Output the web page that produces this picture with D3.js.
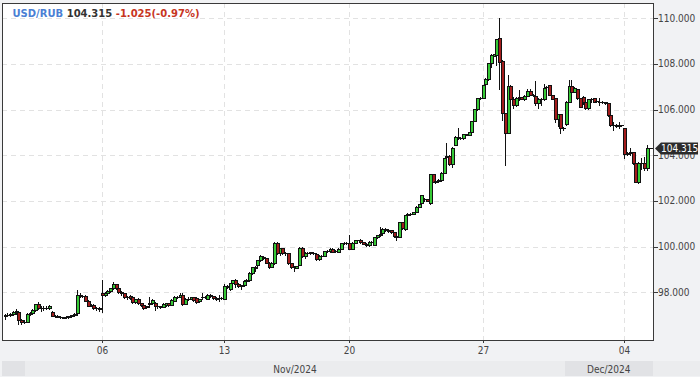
<!DOCTYPE html>
<html>
<head>
<meta charset="utf-8">
<script src="https://cdn.jsdelivr.net/npm/d3@7"></script>
<style>
  html, body { margin: 0; padding: 0; background: #f1f2f4; }
  svg { display: block; }
  .axis-text { font-family: "DejaVu Sans Condensed", "Liberation Sans Narrow", "DejaVu Sans Mono", monospace; font-size: 10px; fill: #444; }
</style>
</head>
<body>
<div id="chart"></div>
<script>
//=====================DATA=====================

const symbol = 'USD/RUB'
const lastText = '104.315'
const changeText = '-1.025(-0.97%)'

const opens = [
  96.95, 97.0, 97.02, 97.05, 97.15, 97.15, 96.77, 96.72, 96.7, 97.05,
  97.1, 97.22, 97.47, 97.3, 97.32, 97.3, 97.3, 97.15, 96.98, 96.95,
  96.93, 96.9, 96.9, 96.9, 96.95, 97.0, 97.08, 97.88, 97.85, 97.82,
  97.62, 97.42, 97.43, 97.3, 97.3, 97.97, 97.87, 97.96, 98.05, 98.17,
  98.35, 98.17, 98.0, 97.95, 97.78, 97.85, 97.78, 97.58, 97.7, 97.53,
  97.45, 97.35, 97.5, 97.52, 97.55, 97.38, 97.4, 97.37, 97.45, 97.52,
  97.45, 97.63, 97.8, 97.8, 97.9, 97.5, 97.72, 97.72, 97.78, 97.75,
  97.62, 97.78, 97.8, 97.72, 97.9, 97.82, 97.73, 97.75, 97.75, 97.72,
  98.28, 98.15, 98.42, 98.53, 98.38, 98.28, 98.3, 98.5, 98.55, 98.85,
  99.1, 99.2, 99.4, 99.55, 99.5, 99.3, 99.12, 99.27, 100.18, 99.7,
  99.92, 99.7, 99.7, 99.27, 99.12, 99.08, 99.2, 99.95, 99.57, 99.72,
  99.7, 99.72, 99.68, 99.45, 99.6, 99.6, 99.8, 99.8, 99.9, 99.8,
  99.78, 99.9, 100.16, 100.16, 100.16, 99.9, 100.16, 100.27, 100.3, 100.2,
  100.13, 100.06, 100.2, 100.07, 100.4, 100.5, 100.6, 100.76, 100.74, 100.72,
  100.62, 100.46, 100.42, 101.08, 100.77, 101.4, 101.44, 101.45, 101.53, 101.75,
  101.9, 102.1, 102.07, 101.92, 103.17, 102.85, 102.87, 102.9, 103.24, 103.92,
  103.98, 103.61, 104.45, 104.81, 104.74, 104.74, 104.9, 104.9, 105.0, 105.5,
  106.01, 106.5, 106.52, 107.12, 107.33, 108.03, 108.36, 108.39, 109.12, 108.14,
  105.84, 104.98, 107.03, 106.46, 106.2, 106.52, 106.54, 106.46, 106.6, 106.8,
  106.65, 106.6, 106.27, 106.46, 106.46, 106.98, 107.08, 106.64, 106.5, 105.58,
  105.8, 105.18, 105.36, 106.35, 107.05, 106.79, 106.9, 106.5, 106.55, 106.32,
  106.06, 106.46, 106.5, 106.38, 106.35, 106.32, 106.32, 106.27, 105.76, 105.33,
  105.32, 105.3, 105.31, 105.18, 104.06, 104.12, 104.13, 103.65, 102.82, 103.68,
  103.68, 103.43
]

const highs = [
  97.05, 97.1, 97.1, 97.2, 97.25, 97.2, 96.85, 96.8, 97.1, 97.15,
  97.28, 97.5, 97.58, 97.4, 97.38, 97.4, 97.45, 97.2, 97.02, 97.0,
  96.98, 96.93, 96.95, 96.97, 97.02, 97.08, 98.1, 97.95, 97.9, 97.86,
  97.66, 97.48, 97.47, 97.35, 97.34, 98.52, 98.0, 98.1, 98.2, 98.44,
  98.38, 98.2, 98.05, 97.98, 97.85, 97.88, 97.8, 97.72, 97.73, 97.55,
  97.47, 97.4, 97.78, 97.72, 97.58, 97.45, 97.42, 97.52, 97.55, 97.55,
  97.7, 97.82, 97.85, 97.95, 97.95, 97.75, 97.78, 97.8, 97.8, 97.78,
  97.72, 97.95, 97.85, 97.92, 97.93, 97.85, 97.78, 97.88, 97.8, 98.35,
  98.3, 98.42, 98.55, 98.56, 98.4, 98.33, 98.52, 98.58, 98.88, 99.12,
  99.15, 99.42, 99.62, 99.6, 99.52, 99.32, 99.33, 100.22, 100.2, 99.95,
  99.93, 99.75, 99.72, 99.3, 99.15, 99.17, 100.0, 99.97, 99.75, 99.76,
  99.78, 99.76, 99.7, 99.62, 99.63, 99.82, 99.83, 99.92, 99.92, 99.84,
  99.92, 100.18, 100.2, 100.2, 100.5, 100.2, 100.3, 100.3, 100.32, 100.22,
  100.15, 100.25, 100.23, 100.42, 100.52, 100.88, 100.8, 100.8, 100.76, 100.74,
  100.64, 100.48, 101.08, 101.1, 101.4, 101.48, 101.48, 101.53, 101.77, 101.88,
  102.28, 102.15, 102.1, 103.2, 103.2, 102.98, 102.96, 103.26, 103.9, 104.55,
  104.0, 104.35, 104.85, 105.18, 104.78, 104.95, 104.95, 105.02, 105.52, 106.03,
  106.52, 106.55, 107.1, 107.38, 108.05, 108.42, 108.45, 109.1, 110.0, 108.16,
  105.86, 107.5, 107.06, 106.55, 106.55, 106.85, 106.56, 106.62, 106.9, 106.9,
  106.68, 107.25, 106.5, 106.5, 107.12, 107.02, 107.1, 106.66, 106.52, 105.82,
  105.82, 105.22, 106.38, 107.3, 107.3, 106.98, 106.92, 106.52, 106.58, 106.34,
  106.48, 106.5, 106.52, 106.42, 106.5, 106.36, 106.34, 106.29, 105.78, 105.46,
  105.36, 105.47, 105.33, 105.2, 104.14, 104.3, 104.15, 103.67, 103.7, 103.9,
  103.92, 104.46
]

const lows = [
  96.85, 96.95, 96.95, 97.0, 97.05, 96.6, 96.6, 96.65, 96.68, 97.0,
  97.05, 97.2, 97.25, 97.2, 97.22, 97.25, 97.28, 96.95, 96.92, 96.9,
  96.88, 96.86, 96.86, 96.87, 96.92, 96.97, 97.02, 97.8, 97.78, 97.6,
  97.4, 97.38, 97.28, 97.22, 97.2, 97.12, 97.85, 97.94, 98.0, 98.15,
  98.15, 97.98, 97.9, 97.75, 97.72, 97.7, 97.54, 97.55, 97.5, 97.4,
  97.28, 97.3, 97.35, 97.48, 97.22, 97.33, 97.33, 97.35, 97.42, 97.42,
  97.43, 97.6, 97.75, 97.78, 97.45, 97.48, 97.68, 97.7, 97.63, 97.55,
  97.58, 97.72, 97.75, 97.7, 97.8, 97.7, 97.68, 97.6, 97.7, 97.7,
  98.2, 98.12, 98.4, 98.25, 98.25, 98.15, 98.28, 98.48, 98.5, 98.82,
  98.95, 99.15, 99.38, 99.45, 99.28, 99.05, 99.1, 99.25, 99.68, 99.65,
  99.68, 99.65, 99.25, 99.08, 98.95, 99.05, 99.18, 99.55, 99.52, 99.68,
  99.66, 99.67, 99.42, 99.43, 99.56, 99.58, 99.75, 99.78, 99.75, 99.76,
  99.76, 99.88, 100.12, 100.12, 99.88, 99.88, 100.14, 100.22, 100.18, 100.1,
  100.04, 100.04, 100.15, 100.05, 100.38, 100.48, 100.58, 100.7, 100.66, 100.6,
  100.44, 100.3, 100.4, 100.78, 100.74, 101.25, 101.4, 101.43, 101.5, 101.72,
  101.88, 102.0, 101.98, 101.85, 102.82, 102.8, 102.85, 102.88, 103.22, 103.88,
  103.58, 103.5, 104.43, 104.72, 104.7, 104.72, 104.87, 104.88, 104.98, 105.48,
  105.99, 106.46, 106.5, 107.08, 107.3, 107.88, 108.33, 107.95, 106.9, 105.55,
  103.58, 104.96, 106.42, 106.05, 106.18, 106.42, 106.45, 106.44, 106.58, 106.62,
  106.6, 106.2, 106.05, 106.2, 106.44, 106.92, 106.62, 106.45, 105.45, 105.3,
  104.96, 105.12, 105.33, 106.32, 106.76, 106.76, 106.48, 106.1, 106.25, 106.04,
  106.04, 106.32, 106.33, 106.33, 106.2, 106.28, 106.26, 105.74, 105.3, 105.12,
  105.26, 105.18, 105.29, 103.88, 104.0, 104.03, 103.6, 102.82, 102.8, 103.4,
  103.35, 103.35
]

const closes = [
  97.0, 97.02, 97.05, 97.15, 97.18, 96.77, 96.72, 96.7, 97.05, 97.1,
  97.22, 97.47, 97.3, 97.32, 97.3, 97.33, 97.42, 96.98, 96.95, 96.93,
  96.9, 96.89, 96.9, 96.95, 97.0, 97.06, 97.88, 97.85, 97.82, 97.62,
  97.42, 97.43, 97.3, 97.3, 97.28, 97.87, 97.96, 98.05, 98.17, 98.35,
  98.17, 98.0, 97.95, 97.78, 97.8, 97.73, 97.56, 97.7, 97.53, 97.43,
  97.33, 97.38, 97.52, 97.68, 97.38, 97.4, 97.36, 97.5, 97.52, 97.45,
  97.68, 97.8, 97.8, 97.9, 97.5, 97.72, 97.72, 97.78, 97.65, 97.57,
  97.7, 97.8, 97.78, 97.9, 97.82, 97.73, 97.72, 97.75, 97.75, 98.28,
  98.25, 98.4, 98.53, 98.38, 98.28, 98.3, 98.5, 98.55, 98.85, 99.1,
  99.05, 99.4, 99.58, 99.52, 99.3, 99.12, 99.3, 100.18, 99.7, 99.92,
  99.7, 99.7, 99.27, 99.12, 99.1, 99.15, 99.95, 99.57, 99.72, 99.72,
  99.75, 99.7, 99.45, 99.6, 99.6, 99.8, 99.8, 99.9, 99.77, 99.8,
  99.9, 100.16, 100.16, 100.15, 99.9, 100.16, 100.27, 100.28, 100.2, 100.13,
  100.06, 100.2, 100.2, 100.4, 100.5, 100.55, 100.76, 100.74, 100.68, 100.62,
  100.46, 100.42, 101.06, 100.8, 101.38, 101.42, 101.45, 101.5, 101.75, 101.86,
  102.26, 102.07, 102.0, 103.17, 102.85, 102.87, 102.93, 103.24, 103.87, 103.95,
  103.62, 104.33, 104.81, 104.74, 104.74, 104.93, 104.92, 105.0, 105.5, 106.01,
  106.5, 106.52, 107.08, 107.34, 108.03, 108.39, 108.42, 109.08, 108.1, 105.84,
  104.96, 107.03, 106.45, 106.2, 106.52, 106.54, 106.47, 106.6, 106.8, 106.65,
  106.64, 106.27, 106.46, 106.45, 106.96, 107.0, 106.64, 106.47, 105.58, 105.8,
  105.18, 105.18, 106.35, 107.05, 106.79, 106.95, 106.5, 106.13, 106.35, 106.06,
  106.46, 106.45, 106.35, 106.38, 106.34, 106.32, 106.27, 105.76, 105.33, 105.32,
  105.3, 105.31, 105.31, 104.06, 104.12, 104.13, 103.65, 102.82, 103.68, 103.67,
  103.43, 104.315
]

// candle index where each labelled day starts
const dayLabels = ['06', '13', '20', '27', '04']
const dayIndex = [35, 79, 124, 172, 223]

// candle index where each month starts
const monthLabels = ['Oct/2024', 'Nov/2024', 'Dec/2024']
const monthIndex = [0, 8, 202]

const priceTicks = [98, 100, 102, 104, 106, 108, 110]

//=====================STRUCTURE=====================

const width = 700
const height = 377
const plot = {left: 2, top: 3, right: 653, bottom: 340}
const n = closes.length

const candles = closes.map((c, i) => ({i: i, o: opens[i], h: highs[i], l: lows[i], c: c}))

const x = d3.scaleLinear().domain([0, n - 1]).range([plot.left + 2.5, plot.right - 6.5])
const y = d3.scaleLinear().domain([95.91, 110.67]).range([plot.bottom, plot.top])

const svg = d3.select('#chart')
.append('svg')
.attr('width', width)
.attr('height', height)

svg.append('rect')
.attr('width', width)
.attr('height', height)
.attr('fill', '#f1f2f4')

svg.append('rect')
.attr('x', plot.left)
.attr('y', plot.top)
.attr('width', plot.right - plot.left)
.attr('height', plot.bottom - plot.top)
.attr('fill', '#ffffff')

//=====================GRID=====================

const grid = svg.append('g').attr('class', 'grid')

grid.selectAll('.hgrid')
.data(priceTicks)
.enter()
.append('line')
.attr('x1', plot.left)
.attr('x2', plot.right)
.attr('y1', d => Math.round(y(d)) + 0.5)
.attr('y2', d => Math.round(y(d)) + 0.5)
.attr('stroke', '#e2e2e2')
.attr('stroke-dasharray', '5,4')

grid.selectAll('.vgrid')
.data(dayIndex)
.enter()
.append('line')
.attr('x1', d => Math.round(x(d)) + 0.5)
.attr('x2', d => Math.round(x(d)) + 0.5)
.attr('y1', plot.top)
.attr('y2', plot.bottom)
.attr('stroke', '#e2e2e2')
.attr('stroke-dasharray', '5,4')

//=====================CANDLES=====================

const candleGroup = svg.append('g').attr('class', 'candles')

candles.forEach(d => {

	let cx = Math.round(x(d.i))
	let top = Math.round(y(Math.max(d.o, d.c)))
	let bottom = Math.round(y(Math.min(d.o, d.c)))

	candleGroup.append('line')
	.attr('x1', cx + 0.5)
	.attr('x2', cx + 0.5)
	.attr('y1', Math.round(y(d.h)))
	.attr('y2', Math.round(y(d.l)) + 1)
	.attr('stroke', '#111')

	if(bottom - top < 1)
	{
		candleGroup.append('rect')
		.attr('x', cx - 1)
		.attr('y', top)
		.attr('width', 4)
		.attr('height', 1)
		.attr('fill', '#111')
	}
	else
	{
		candleGroup.append('rect')
		.attr('x', cx - 1)
		.attr('y', top)
		.attr('width', 4)
		.attr('height', bottom - top + 1)
		.attr('fill', '#111')

		if(bottom - top >= 2)
		{
			candleGroup.append('rect')
			.attr('x', cx)
			.attr('y', top + 1)
			.attr('width', 2)
			.attr('height', bottom - top - 1)
			.attr('fill', d.c >= d.o ? '#36c936' : '#a31c1c')
		}
	}
})

//=====================FRAME & AXES=====================

svg.append('rect')
.attr('x', plot.left + 0.5)
.attr('y', plot.top + 0.5)
.attr('width', plot.right - plot.left)
.attr('height', plot.bottom - plot.top)
.attr('fill', 'none')
.attr('stroke', '#3a3a3a')

const yAxis = svg.append('g').attr('class', 'y-axis')

yAxis.selectAll('.tick')
.data(priceTicks)
.enter()
.append('line')
.attr('x1', plot.right)
.attr('x2', plot.right + 5)
.attr('y1', d => Math.round(y(d)) + 0.5)
.attr('y2', d => Math.round(y(d)) + 0.5)
.attr('stroke', '#3a3a3a')

yAxis.selectAll('.label')
.data(priceTicks)
.enter()
.append('text')
.attr('class', 'axis-text')
.attr('x', plot.right + 5)
.attr('y', d => y(d) + 3.5)
.text(d => d3.format('.3f')(d))

const xAxis = svg.append('g').attr('class', 'x-axis')

xAxis.selectAll('.tick')
.data(dayIndex)
.enter()
.append('line')
.attr('x1', d => Math.round(x(d)) + 0.5)
.attr('x2', d => Math.round(x(d)) + 0.5)
.attr('y1', plot.bottom)
.attr('y2', plot.bottom + 3)
.attr('stroke', '#3a3a3a')

xAxis.selectAll('.label')
.data(dayLabels)
.enter()
.append('text')
.attr('class', 'axis-text')
.attr('text-anchor', 'middle')
.attr('x', (d, i) => Math.round(x(dayIndex[i])) + 0.5)
.attr('y', 354)
.text(d => d)

//=====================MONTH BAND=====================

const band = svg.append('g').attr('class', 'months')

band.append('rect')
.attr('x', plot.left)
.attr('y', 361)
.attr('width', width - plot.left)
.attr('height', 15)
.attr('fill', '#ebecee')

monthLabels.forEach((m, i) => {

	let x0 = i == 0 ? plot.left : x(monthIndex[i] - 0.5)
	let x1 = i == monthLabels.length - 1 ? plot.right : x(monthIndex[i + 1] - 0.5)

	band.append('rect')
	.attr('x', Math.round(x0))
	.attr('y', 361)
	.attr('width', Math.round(x1) - Math.round(x0))
	.attr('height', 15)
	.attr('fill', i % 2 == 0 ? '#e1e2e5' : '#ebecee')

	if(x1 - x0 > 50)
	{
		band.append('text')
		.attr('class', 'axis-text')
		.attr('text-anchor', 'middle')
		.attr('x', (x0 + x1) / 2)
		.attr('y', 372.5)
		.text(m)
	}
})

//=====================LAST PRICE=====================

const last = closes[n - 1]
const yl = Math.round(y(last)) + 0.5

svg.append('line')
.attr('x1', Math.round(x(n - 1)) + 3)
.attr('x2', plot.right)
.attr('y1', yl)
.attr('y2', yl)
.attr('stroke', '#111')

svg.append('path')
.attr('d', `M${plot.right + 2},${yl} L${plot.right + 8},${yl - 6} L${width - 2},${yl - 6} L${width - 2},${yl + 6} L${plot.right + 8},${yl + 6} Z`)
.attr('fill', '#2b2b2b')

svg.append('text')
.attr('class', 'axis-text')
.attr('x', plot.right + 8)
.attr('y', yl + 3.5)
.style('fill', '#ffffff')
.text(d3.format('.3f')(last))

//=====================HEADER=====================

const header = svg.append('text')
.attr('x', 12.5)
.attr('y', 17)
.style('font-family', '"DejaVu Sans", sans-serif')
.style('font-size', '10px')
.style('font-weight', 'bold')

header.append('tspan').attr('fill', '#4a7fd4').text(symbol)
header.append('tspan').attr('fill', '#333333').text(' ' + lastText)
header.append('tspan').attr('fill', '#c7361f').text(' ' + changeText)

</script>
</body>
</html>
